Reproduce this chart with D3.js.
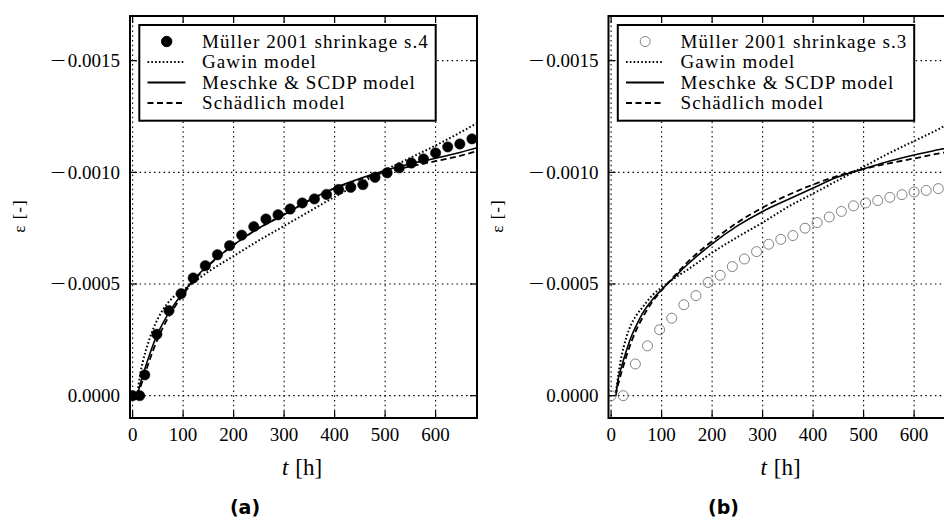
<!DOCTYPE html>
<html><head><meta charset="utf-8">
<script src="https://cdn.jsdelivr.net/npm/d3@7"></script>
<style>body{margin:0;background:#fff} svg{display:block} .serif{font-family:"Liberation Serif","DejaVu Serif",serif}</style>
</head><body><svg id="chart" width="944" height="520"></svg>
<script>
// ---------- data (strain values in units of 1e-4) ----------
const xTicks = [0, 100, 200, 300, 400, 500, 600];
const yTicks = [0, -0.0005, -0.0010, -0.0015];
const yTickLabels = ["0.0000", "0.0005", "0.0010", "0.0015"]; // minus added for negatives

const timesA  = [0,14,24,48,72,96,120,144,168,192,216,240,264,288,312,336,360,384,408,432,456,480,504,528,552,576,600,624,648,672];
const strainA = [0,0,-0.93,-2.75,-3.81,-4.57,-5.27,-5.82,-6.31,-6.72,-7.19,-7.57,-7.91,-8.10,-8.36,-8.63,-8.81,-9.01,-9.23,-9.33,-9.45,-9.78,-9.98,-10.2,-10.42,-10.6,-10.87,-11.14,-11.27,-11.5];

const timesB  = [0,24,48,72,96,120,144,168,192,216,240,264,288,312,336,360,384,408,432,456,480,504,528,552,576,600,624,648,672];
const strainB = [0,0,-1.42,-2.23,-2.95,-3.47,-4.07,-4.48,-5.07,-5.39,-5.78,-6.12,-6.45,-6.78,-7.0,-7.17,-7.5,-7.75,-8.0,-8.25,-8.5,-8.63,-8.74,-8.88,-9.0,-9.12,-9.19,-9.27,-9.35];

const modelTimes = [9,15,20,30,40,50,60,80,100,125,150,200,250,300,350,400,450,500,550,600,650,682];
const gawinA     = [0,-0.95,-1.5,-2.3,-2.95,-3.45,-3.85,-4.4,-4.72,-5.15,-5.55,-6.25,-6.95,-7.6,-8.25,-8.9,-9.5,-10.1,-10.65,-11.2,-11.8,-12.2];
const meschkeA   = [0,-0.5,-0.9,-1.6,-2.25,-2.8,-3.25,-4.0,-4.62,-5.3,-5.85,-6.75,-7.5,-8.1,-8.75,-9.3,-9.72,-10.08,-10.38,-10.63,-10.9,-11.1];
const schaedA    = [0,-0.35,-0.7,-1.35,-2.0,-2.55,-3.05,-3.85,-4.52,-5.25,-5.82,-6.75,-7.5,-8.12,-8.75,-9.28,-9.68,-10.0,-10.27,-10.5,-10.75,-10.95];
const gawinB     = [0,-1.05,-1.7,-2.6,-3.2,-3.6,-3.9,-4.45,-4.85,-5.25,-5.62,-6.4,-7.1,-7.75,-8.45,-9.05,-9.65,-10.25,-10.85,-11.4,-11.95,-12.35];
const meschkeB   = [0,-0.85,-1.25,-2.0,-2.65,-3.15,-3.6,-4.25,-4.75,-5.3,-5.85,-6.8,-7.6,-8.25,-8.78,-9.3,-9.8,-10.15,-10.5,-10.78,-11.02,-11.17];
const schaedB    = [0,-0.6,-1.0,-1.75,-2.4,-2.95,-3.4,-4.15,-4.72,-5.35,-5.95,-6.92,-7.75,-8.42,-8.98,-9.45,-9.85,-10.15,-10.4,-10.62,-10.85,-10.97];

const modelNames = ["Gawin model", "Meschke & SCDP model", "Schädlich model"];

// ---------- drawing ----------
const svg = d3.select("#chart");
const panels = [
  {id:"a", x0:130, caption:"(a)", dataLabel:"Müller 2001 shrinkage s.4", filled:true, t:timesA, v:strainA, models:[gawinA, meschkeA, schaedA]},
  {id:"b", x0:608.5, caption:"(b)", dataLabel:"Müller 2001 shrinkage s.3", filled:false, t:timesB, v:strainB, models:[gawinB, meschkeB, schaedB]}
];
const PW = 347, PTOP = 16, PBOT = 418;
const dashes = ["1.6,2.2", null, "6,3.5"];
const lineW = [2, 1.6, 1.8];

panels.forEach(p => {
  const x = d3.scaleLinear().domain([-5.2, 682]).range([p.x0, p.x0 + PW]);
  const y = d3.scaleLinear().domain([0.0001, -0.0017]).range([PBOT, PTOP]);
  const g = svg.append("g");

  g.append("clipPath").attr("id", "clip" + p.id)
    .append("rect").attr("x", p.x0).attr("y", PTOP).attr("width", PW).attr("height", PBOT - PTOP);

  // grid
  const grid = g.append("g").attr("stroke", "#000").attr("stroke-width", 1.1).attr("stroke-dasharray", "1.5,3.3");
  xTicks.forEach(t => grid.append("line").attr("x1", x(t)).attr("x2", x(t)).attr("y1", PTOP).attr("y2", PBOT));
  yTicks.forEach(v => grid.append("line").attr("x1", p.x0).attr("x2", p.x0 + PW).attr("y1", y(v)).attr("y2", y(v)));

  const plot = g.append("g").attr("clip-path", `url(#clip${p.id})`);
  // model lines
  p.models.forEach((m, i) => {
    const pts = modelTimes.map((t, k) => [t, m[k] * 1e-4]);
    plot.append("path").datum(pts)
      .attr("fill", "none").attr("stroke", "#000").attr("stroke-width", lineW[i])
      .attr("stroke-dasharray", dashes[i])
      .attr("d", d3.line().x(d => x(d[0])).y(d => y(d[1])).curve(d3.curveMonotoneX));
  });
  // data markers
  plot.selectAll("circle.pt").data(p.t.map((t, k) => [t, p.v[k] * 1e-4])).enter()
    .append("circle").attr("class", "pt")
    .attr("cx", d => x(d[0])).attr("cy", d => y(d[1])).attr("r", p.filled ? 5.2 : 5)
    .attr("fill", p.filled ? "#000" : "none")
    .attr("stroke", p.filled ? "#000" : "#808080").attr("stroke-width", p.filled ? 0.5 : 1);

  // frame
  g.append("rect").attr("x", p.x0).attr("y", PTOP).attr("width", PW).attr("height", PBOT - PTOP)
    .attr("fill", "none").attr("stroke", "#000").attr("stroke-width", 2);
  // inward ticks
  const tk = g.append("g").attr("stroke", "#000").attr("stroke-width", 1.2);
  xTicks.forEach(t => {
    tk.append("line").attr("x1", x(t)).attr("x2", x(t)).attr("y1", PBOT).attr("y2", PBOT - 7);
    tk.append("line").attr("x1", x(t)).attr("x2", x(t)).attr("y1", PTOP).attr("y2", PTOP + 7);
  });
  yTicks.forEach(v => {
    tk.append("line").attr("x1", p.x0).attr("x2", p.x0 + 7).attr("y1", y(v)).attr("y2", y(v));
    tk.append("line").attr("x1", p.x0 + PW).attr("x2", p.x0 + PW - 7).attr("y1", y(v)).attr("y2", y(v));
  });

  // tick labels
  xTicks.forEach(t => g.append("text").attr("class", "serif").attr("x", x(t)).attr("y", 440.5)
    .attr("text-anchor", "middle").attr("font-size", 19).text(t));
  yTicks.forEach((v, i) => {
    const tx = g.append("text").attr("class", "serif").attr("x", p.x0 - 10).attr("y", y(v)).attr("dy", "0.33em")
      .attr("text-anchor", "end").attr("font-size", 19).text(yTickLabels[i]);
    if (v < 0) {
      const w = tx.node().getComputedTextLength();
      const mx = p.x0 - 10 - w - 2;
      g.append("text").attr("class", "serif").attr("font-size", 19).attr("text-anchor", "end")
        .attr("transform", `translate(${mx},${y(v)}) scale(1.45,1)`).attr("dy", "0.33em").text("\u2212");
    }
  });

  // axis labels
  const xl = g.append("text").attr("class", "serif").attr("x", p.x0 + 172).attr("y", 475).attr("text-anchor", "middle")
    .attr("font-size", 23);
  xl.append("tspan").attr("font-style", "italic").text("t");
  xl.append("tspan").attr("dx", 7).text("[h]");
  g.append("text").attr("class", "serif").attr("transform", `translate(${p.x0 - 111},216) rotate(-90)`)
    .attr("text-anchor", "middle").attr("dy", "0.35em")
    .attr("font-size", 17).attr("letter-spacing", 1).text("ε [-]");

  // caption
  g.append("text").attr("x", p.x0 + 115).attr("y", 514).attr("text-anchor", "middle")
    .attr("font-family", "'DejaVu Sans',sans-serif").attr("font-weight", "bold").attr("font-size", 19).text(p.caption);

  // legend
  const lg = g.append("g");
  lg.append("rect").attr("x", p.x0 + 9.3).attr("y", 25).attr("width", 296.4).attr("height", 95.7)
    .attr("fill", "#fff").attr("stroke", "#000").attr("stroke-width", 2);
  const rowY = [41.5, 62, 82.5, 103];
  const labels = [p.dataLabel].concat(modelNames);
  labels.forEach((lab, i) => {
    if (i === 0) {
      lg.append("circle").attr("cx", p.x0 + 36.7).attr("cy", rowY[0]).attr("r", p.filled ? 5.2 : 5)
        .attr("fill", p.filled ? "#000" : "none").attr("stroke", p.filled ? "#000" : "#808080").attr("stroke-width", 1);
    } else {
      lg.append("line").attr("x1", p.x0 + 17.5).attr("x2", p.x0 + 55.5).attr("y1", rowY[i]).attr("y2", rowY[i])
        .attr("stroke", "#000").attr("stroke-width", lineW[i - 1] + 0.2).attr("stroke-dasharray", dashes[i - 1]);
    }
    lg.append("text").attr("class", "serif").attr("x", p.x0 + 72).attr("y", rowY[i] + 6.3)
      .attr("font-size", 19).attr("letter-spacing", 1.1).text(lab);
  });
});
</script></body></html>
